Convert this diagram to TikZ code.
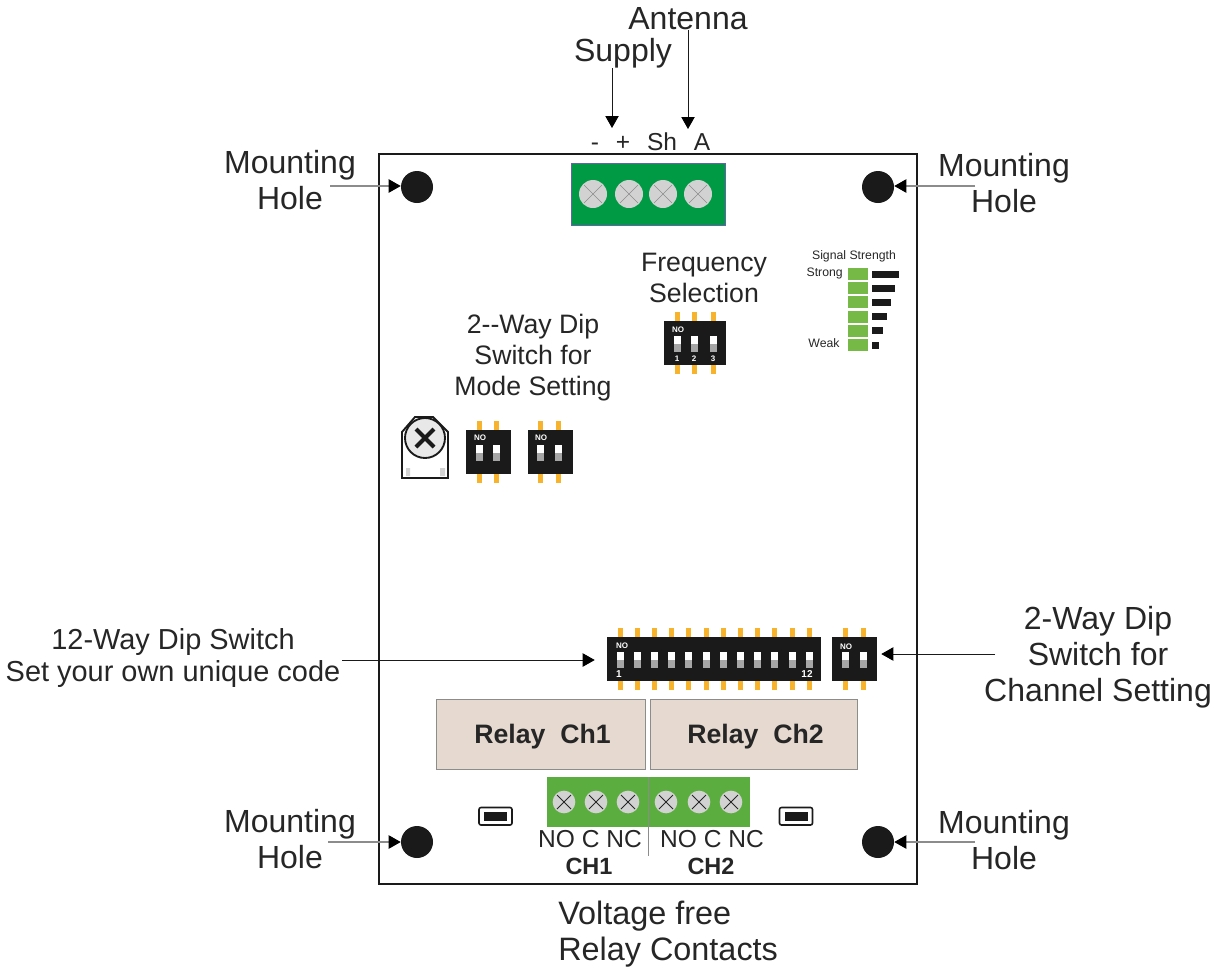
\documentclass[tikz,border=0pt]{standalone}
\usepackage{fontspec}
\setmainfont{Liberation Sans}
\usetikzlibrary{arrows.meta}
\definecolor{brdBlack}{HTML}{1A1A1A}
\definecolor{brdText}{HTML}{262626}
\definecolor{brdGreen}{HTML}{009A44}
\definecolor{brdLeaf}{HTML}{5CAD3F}
\definecolor{brdLed}{HTML}{76B947}
\definecolor{brdPin}{HTML}{F7B32B}
\definecolor{brdRelay}{HTML}{E6D9D0}
\definecolor{brdScrew}{HTML}{D2D2D2}
\definecolor{brdGray}{HTML}{8C8C8C}
\definecolor{brdSlide}{HTML}{A6A6A6}
\tikzset{
  brd frame/.style={draw=brdBlack, line width=1.8pt},
  brd hole/.style={circle, fill=brdBlack, minimum size=24pt, inner sep=0pt},
  brd screw/.style={circle, fill=brdScrew, minimum size=#1, inner sep=0pt},
  brd body/.style={fill=brdBlack, inner sep=0pt, minimum height=33pt},
  brd relay/.style={draw=brdGray, fill=brdRelay, line width=0.6pt, minimum height=52.5pt, inner sep=0pt, text depth=0pt, text=brdText, font=\bfseries\fontsize{20}{23}\selectfont},
  brd arrow/.style={draw=brdBlack, line width=0.7pt, -{Triangle[length=9pt,width=10pt,color=black,fill=black]}},
  brd lead/.style={draw=brdGray, line width=0.8pt, -{Triangle[length=9pt,width=10pt,color=black,fill=black]}},
  brd label/.style={font=\fontsize{24}{27}\selectfont, text=brdText, align=center, inner sep=0pt},
  brd mid label/.style={font=\fontsize{20}{23.2}\selectfont, text=brdText, align=center, inner sep=0pt},
  brd pole/.style={font=\fontsize{18.4}{21}\selectfont, text=brdText, inner sep=0pt},
  brd tiny/.style={font=\fontsize{9.2}{11}\selectfont, text=brdText, inner sep=0pt},
  brd marks/.style={font=\bfseries\fontsize{6}{7}\selectfont, text=white, inner sep=0pt},
}
% name, centre x, centre y, body width, pin positions
\newcommand{\dipswitch}[5]{
  \node[brd body, minimum width=#4*0.75pt] (#1) at (#2,#3) {};
  \foreach \p in {#5} {
    \fill[brdPin] (\p-2.5,#3-31) rectangle (\p+2.5,#3-22);
    \fill[brdPin] (\p-2.5,#3+22) rectangle (\p+2.5,#3+31);
    \fill[white] (\p-3.5,#3-7) rectangle (\p+3.5,#3+1);
    \fill[brdSlide] (\p-3.5,#3+1) rectangle (\p+3.5,#3+9);
  }
}

\begin{document}
\begin{tikzpicture}[x=0.75pt,y=-0.75pt]
  \useasboundingbox (0,0) rectangle (1216,968);

  % Board outline and mounting holes
  \draw[brd frame] (379,154) rectangle (917,884);
  \node[brd hole] (hole tl) at (417,187) {};
  \node[brd hole] (hole tr) at (878,187) {};
  \node[brd hole] (hole bl) at (417,842) {};
  \node[brd hole] (hole br) at (878,842) {};

  \node[brd label] (mount tl) at (290,180) {Mounting\\Hole};
  \node[brd label] (mount tr) at (1004,183) {Mounting\\Hole};
  \node[brd label] (mount bl) at (290,839) {Mounting\\Hole};
  \node[brd label] (mount br) at (1004,840) {Mounting\\Hole};
  \coordinate (lead tl) at (330,186);
  \coordinate (lead tr) at (975,186);
  \coordinate (lead bl) at (328,842);
  \coordinate (lead br) at (975,842);
  \draw[brd lead] (lead tl) -- (lead tl -| hole tl.west);
  \draw[brd lead] (lead tr) -- (lead tr -| hole tr.east);
  \draw[brd lead] (lead bl) -- (hole bl.west);
  \draw[brd lead] (lead br) -- (hole br.east);

  % Supply and antenna terminal
  \node[draw=brdGray!70!blue, fill=brdGreen, line width=0.6pt, minimum width=115.5pt, minimum height=46.5pt, inner sep=0pt] (term top) at (648,194) {};
  \foreach \x in {593,629,663,698} {
    \node[brd screw=21pt] (screw \x) at (\x,194) {};
    \draw[brdGray, line width=0.5pt] (\x-9,185) -- (\x+9,203) (\x-9,203) -- (\x+9,185);
  }
  \node[brd pole, anchor=base] (pole minus) at (595,150) {-};
  \node[brd pole, anchor=base] (pole plus) at (623,150) {+};
  \node[brd pole, anchor=base] (pole sh) at (662,150) {Sh};
  \node[brd pole, anchor=base] (pole a) at (702,150) {A};
  \node[brd label] (supply) at (623,53) {Supply};
  \node[brd label] (antenna) at (688,19) {Antenna};
  \coordinate (supply tip) at (612,128);
  \coordinate (antenna tip) at (688,129);
  \draw[brd arrow] (supply tip |- supply.south) -- (supply tip);
  \draw[brd arrow] (antenna.south) -- (antenna tip);

  % Frequency selection
  \node[brd mid label] (freq) at (704,278) {Frequency\\Selection};
  \dipswitch{dip freq}{695}{343}{62}{677,694,713}
  \node[brd marks] (freq no) at (678,330) {NO};
  \node[brd marks] (freq a) at (677,359) {1};
  \node[brd marks] (freq b) at (694,359) {2};
  \node[brd marks] (freq c) at (713,359) {3};

  % Signal strength bars
  \node[brd tiny] (sig title) at (854,256) {Signal Strength};
  \node[brd tiny, anchor=east] (sig strong) at (843,273) {Strong};
  \node[brd tiny] (sig weak) at (824,343) {Weak};
  \foreach \i/\r in {0/899,1/895,2/891,3/887,4/883,5/879} {
    \fill[brdLed] (848,{268+14.2*\i}) rectangle (868,{280+14.2*\i});
    \fill[brdBlack] (872,{270.5+14.2*\i}) rectangle (\r,{277.5+14.2*\i});
  }

  % Mode setting
  \node[brd mid label] (mode) at (533,358) {2-{}-Way Dip\\Switch for\\Mode Setting};
  \draw[brdBlack, fill=white, line width=1.4pt] (402,478) -- (402,432) -- (415,417) -- (433,417) -- (448,432) -- (448,478) -- cycle;
  \fill[brdScrew] (406,468) rectangle (410,476) (440,468) rectangle (445,476);
  \node[circle, draw=brdBlack, fill=brdScrew!50!white, line width=1.4pt, minimum size=30pt, inner sep=0pt] (trim) at (425,438) {};
  \draw[brdBlack, line width=3pt] (416,429) -- (434,447) (416,447) -- (434,429);
  \dipswitch{dip mode a}{488.5}{452}{45}{479,496}
  \dipswitch{dip mode b}{550}{452}{45}{540,558}
  \node[brd marks] (mode a no) at (480,438) {NO};
  \node[brd marks] (mode b no) at (541,438) {NO};

  % Code and channel switches
  \dipswitch{dip code}{714}{659}{214}{620,637.2,...,810}
  \node[brd marks] (code no) at (622,646) {NO};
  \node[brd marks, font=\bfseries\fontsize{7.5}{8}\selectfont] (code first) at (619,674) {1};
  \node[brd marks, font=\bfseries\fontsize{7.5}{8}\selectfont] (code last) at (807,674) {12};
  \dipswitch{dip chan}{854.5}{659}{45}{845,863}
  \node[brd marks] (chan no) at (846,647) {NO};

  \node[brd label, font=\fontsize{21.7}{24}\selectfont] (code text) at (173,658) {12-Way Dip Switch\\Set your own unique code};
  \node[brd label] (chan text) at (1098,657) {2-Way Dip\\Switch for\\Channel Setting};
  \coordinate (code start) at (342,660);
  \coordinate (chan start) at (995,654);
  \draw[brd arrow, shorten >=9pt] (code start) -- (code start -| dip code.west);
  \draw[brd arrow, shorten >=3pt] (chan start) -- (chan start -| dip chan.east);

  % Relays
  \node[brd relay, minimum width=156.75pt] (relay one) at (540.5,734) {\hspace*{3pt}Relay\ \ Ch1};
  \node[brd relay, minimum width=155.25pt] (relay two) at (753.5,734) {\hspace*{3pt}Relay\ \ Ch2};

  % Relay contacts terminal
  \node[fill=brdLeaf, minimum width=152.5pt, minimum height=37.5pt, inner sep=0pt] (term low) at (648.3,802) {};
  \foreach \x in {564,596,628,666,699,731} {
    \node[brd screw=17pt] (contact \x) at (\x,802) {};
    \draw[brdText, line width=0.6pt] (\x-7,795) -- (\x+7,809) (\x-7,809) -- (\x+7,795);
  }
  \draw[brdGray, line width=0.5pt] (648,777) -- (648,856);
  \node[brd pole] (ch one poles) at (590,839) {NO C NC};
  \node[brd pole] (ch two poles) at (712,839) {NO C NC};
  \node[brd pole, font=\bfseries\fontsize{17.6}{20}\selectfont] (ch one) at (589,866) {CH1};
  \node[brd pole, font=\bfseries\fontsize{17.6}{20}\selectfont] (ch two) at (711,866) {CH2};
  \foreach \x in {495.5,796} {
    \draw[brdBlack, fill=white, line width=1.2pt, rounded corners=1.5pt] (\x-16.5,807.5) rectangle (\x+16.5,825);
    \fill[brdBlack] (\x-11.5,811.5) rectangle (\x+11.5,821);
  }
  \node[brd label, font=\fontsize{24.3}{27}\selectfont, align=left, anchor=west] (contacts) at (558,934) {Voltage free\\Relay Contacts};
\end{tikzpicture}
\end{document}
